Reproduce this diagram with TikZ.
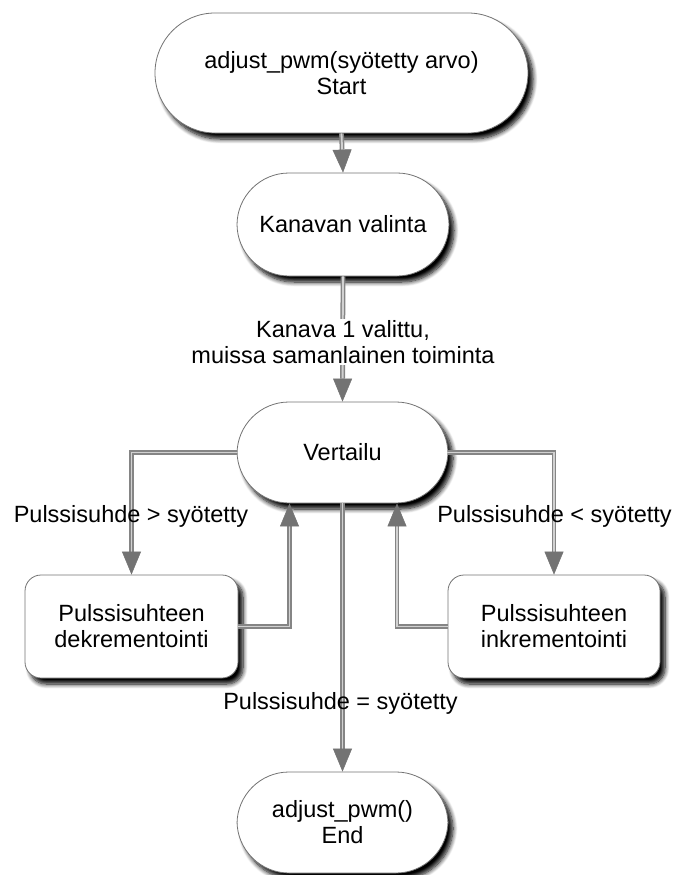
\documentclass[tikz,border=0pt]{standalone}
\usepackage{fontspec}
\setmainfont{Liberation Sans}
\usetikzlibrary{arrows.meta,shadows.blur,calc}
\begin{document}
\begin{tikzpicture}[x=1pt,y=-1pt,
  box/.style={draw=black!55, line width=0.8pt, fill=white, align=center,
    font=\fontsize{23.5}{26}\selectfont, inner sep=0pt,
    blur shadow={shadow xshift=5pt, shadow yshift=-6pt, shadow blur radius=4.5pt, shadow opacity=100, shadow blur steps=8}},
  stadium/.style={box, rounded corners=52pt},
  procbox/.style={box, rounded corners=16pt},
  conn/.style={draw=black!48, double=black!18, double distance=1.8pt, line width=1.5pt},
  arr/.style={conn, -{Triangle[length=23pt,width=19pt,color=black!55,line width=0.5pt]}},
  lbl/.style={font=\fontsize{23.5}{26}\selectfont, align=center, inner sep=1pt}
]
\useasboundingbox (0,0) rectangle (676,875);

\node[stadium, rounded corners=60pt, minimum width=373pt, minimum height=120pt] (start) at (341.5,73) {adjust\_pwm(syötetty arvo)\\Start};
\node[stadium, minimum width=212pt, minimum height=103pt] (kan) at (343,224.5) {Kanavan valinta};
\node[stadium, minimum width=211pt, minimum height=101pt] (vert) at (342.5,452.5) {Vertailu};
\node[procbox, minimum width=213pt, minimum height=103pt] (lbox) at (131.5,626.5) {Pulssisuhteen\\dekrementointi};
\node[procbox, minimum width=212pt, minimum height=103pt] (rbox) at (554,626.5) {Pulssisuhteen\\inkrementointi};
\node[stadium, minimum width=211pt, minimum height=101pt] (stop) at (342.5,822.5) {adjust\_pwm()\\End};

\draw[arr] (start.south) -- (kan.north);
\draw[arr] (kan.south) -- (vert.north);
\draw[arr] (vert.west) -| (lbox.north);
\draw[arr] (vert.east) -| (rbox.north);
\draw[arr] (lbox.east) -| ([xshift=-53pt]vert.south);
\draw[arr] (rbox.west) -| ([xshift=54.5pt]vert.south);
\draw[arr] (vert.south) -- (stop.north);

\node[lbl, fill=white] (l1) at (343,342) {Kanava 1 valittu,\\muissa samanlainen toiminta};
\node[lbl] (l2) at (131,516) {Pulssisuhde > syötetty};
\node[lbl] (l3) at (554.5,516) {Pulssisuhde < syötetty};
\node[lbl] (l4) at (340.5,703) {Pulssisuhde = syötetty};
\end{tikzpicture}
\end{document}
